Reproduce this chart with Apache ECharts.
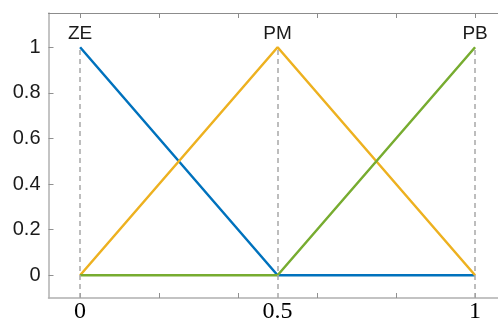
<!DOCTYPE html>
<html>
<head>
<meta charset="utf-8">
<script src="https://cdn.jsdelivr.net/npm/echarts@6/dist/echarts.min.js"></script>
<style>
  html, body { margin: 0; padding: 0; background: #fff; }
  #chartDiv { width: 498px; height: 324px; }
</style>
</head>
<body>
<div id="chartDiv"></div>
<script>
// membership functions, x positions and the values at each one
const xPoints = [0, 0.5, 1];
const seriesNames = ["ZE", "PM", "PB"];
const zeValues = [1, 0, 0];
const pmValues = [0, 1, 0];
const pbValues = [0, 0, 1];
const seriesColors = ["#0072BD", "#EDB120", "#77AC30"];

const xTicks = [0, 0.2, 0.4, 0.6, 0.8, 1];
const xLabels = [0, 0.5, 1];
const yTicks = [0, 0.2, 0.4, 0.6, 0.8, 1];

let chart = echarts.init(document.getElementById("chartDiv"));

function makeSeries(name, values, color) {
    let data = xPoints.map((x, i) => {
        let item = { value: [x, values[i]] };
        if (values[i] === 1) {
            item.label = {
                show: true,
                position: "top",
                distance: 4,
                formatter: name,
                color: "#1a1a1a",
                fontSize: 19,
                fontFamily: "Liberation Sans",
            };
        }
        return item;
    });
    return {
        name: name,
        type: "line",
        data: data,
        symbol: "circle",
        symbolSize: 0,
        showSymbol: true,
        lineStyle: { color: color, width: 2.5 },
        itemStyle: { color: color },
        z: 3,
    };
}

let series = [
    makeSeries(seriesNames[0], zeValues, seriesColors[0]),
    makeSeries(seriesNames[1], pmValues, seriesColors[1]),
    makeSeries(seriesNames[2], pbValues, seriesColors[2]),
];

// dashed guide lines from the bottom axis up to each peak
series.unshift({
    type: "line",
    data: [],
    z: 1,
    markLine: {
        silent: true,
        symbol: "none",
        label: { show: false },
        lineStyle: { color: "#a8a8a8", type: [5, 4], width: 1.5 },
        data: xPoints.map((x) => [
            { coord: [x, -0.1] },
            { coord: [x, 1] },
        ]),
    },
});

let options = {
    animation: false,
    grid: { left: 48.5, right: 0, top: 13, bottom: 23.5 },
    xAxis: [
        {
            type: "value",
            min: -0.08,
            max: 1.058,
            splitLine: { show: false },
            axisLine: { onZero: false, lineStyle: { color: "#b0b0b0", width: 1.5 } },
            axisTick: {
                inside: true,
                length: 5,
                customValues: xTicks,
                lineStyle: { color: "#909090", width: 1 },
            },
            axisLabel: {
                customValues: xLabels,
                color: "#000",
                fontSize: 24,
                fontFamily: "Liberation Serif",
                margin: 2,
            },
        },
        {
            type: "value",
            position: "top",
            min: -0.08,
            max: 1.058,
            splitLine: { show: false },
            axisLine: { onZero: false, lineStyle: { color: "#8c8c8c", width: 1 } },
            axisTick: {
                inside: true,
                length: 5,
                customValues: xTicks,
                lineStyle: { color: "#8c8c8c", width: 1 },
            },
            axisLabel: { show: false },
        },
    ],
    yAxis: {
        type: "value",
        min: -0.1,
        max: 1.15,
        splitLine: { show: false },
        axisLine: { show: true, onZero: false, lineStyle: { color: "#b0b0b0", width: 1.5 } },
        axisTick: {
            show: true,
            inside: true,
            length: 5,
            customValues: yTicks,
            lineStyle: { color: "#909090", width: 1 },
        },
        axisLabel: {
            customValues: yTicks,
            color: "#1a1a1a",
            fontSize: 20,
            fontFamily: "Liberation Sans",
            margin: 8,
        },
    },
    series: series,
};
chart.setOption(options);
</script>
</body>
</html>
